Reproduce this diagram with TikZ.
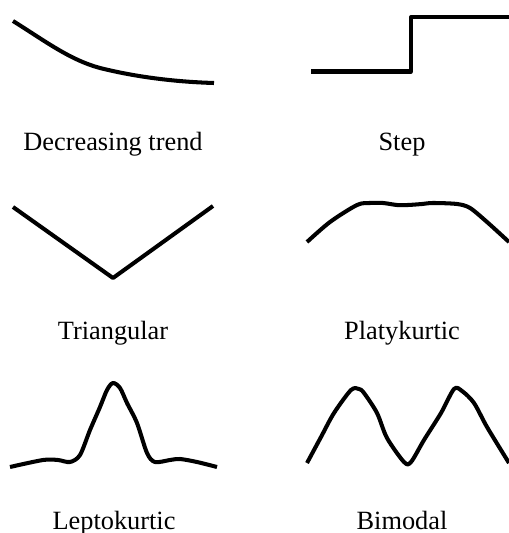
\documentclass[tikz,border=0pt]{standalone}
\usepackage{fontspec}
\setmainfont{Liberation Serif}
\usetikzlibrary{positioning}
\tikzset{
  every picture/.style={line width=2.3pt, line join=round},
  curve/.style={draw=black, smooth, tension=0.5},
  lbl/.style={font=\fontsize{15}{18}\selectfont, anchor=base, inner sep=0pt},
}
\begin{document}
\begin{tikzpicture}[x=0.02cm, y=-0.02cm]
  \useasboundingbox (0,0) rectangle (509,533);
  % decreasing trend
  \draw (13,21) .. controls (45,41) and (70,60) .. (100,68) .. controls (140,78) and (180,82) .. (214,83);
  \node[lbl] (dec) at (113,151) {Decreasing trend};
  % step
  \draw (311,71.5) -- (411,71.5) -- (411,17) -- (509,17);
  \node[lbl] (stp) at (402,151) {Step};
  % triangular
  \draw (13,207) -- (113,278) -- (213,206);
  \node[lbl] (tri) at (113,339) {Triangular};
  % platykurtic
  \draw plot[curve] coordinates {(307,242) (330,222) (357,205) (370,203) (383,203) (397,205)
    (408,205) (422,204) (433,203) (457,204) (470,208) (487,222) (509,242)};
  \node[lbl] (platy) at (402,339) {Platykurtic};
  % leptokurtic
  \draw plot[curve] coordinates {(10,467) (43,460) (58,460) (70,462) (80,455) (90,430) (100,407)
    (107,390) (113,383) (120,388) (127,403) (137,423) (147,453) (155,462) (170,460) (180,459)
    (197,462) (217,467)};
  \node[lbl] (lepto) at (114,529) {Leptokurtic};
  % bimodal
  \draw plot[curve] coordinates {(307,463) (321,437) (334,413) (351,390) (359,389) (364,393)
    (377,413) (387,438) (404,462) (411,462) (424,440) (441,413) (454,389) (462,391) (474,403)
    (487,427) (509,463)};
  \node[lbl] (bimod) at (402,529) {Bimodal};
\end{tikzpicture}
\end{document}
